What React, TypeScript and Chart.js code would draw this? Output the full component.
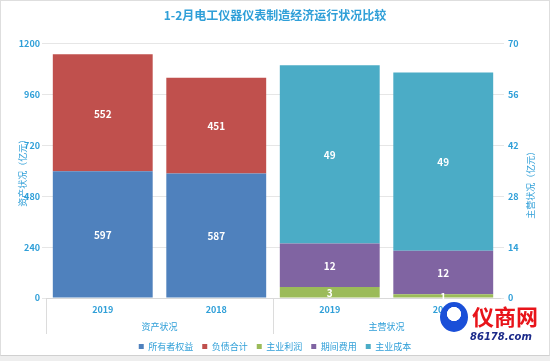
import React, { useEffect, useRef } from "react";
import { Chart, registerables } from "chart.js";

Chart.register(...registerables);

const title = "1-2月电工仪器仪表制造经济运行状况比较";
const years = ["2019", "2018", "2019", "2018"];
const groups = ["资产状况", "主营状况"];
const leftTitle = "资产状况（亿元）";
const rightTitle = "主营状况（亿元）";

const ownerEquity = [597, 587, null, null];
const totalLiabilities = [552, 451, null, null];
const mainProfit = [null, null, 3, 1];
const periodExpense = [null, null, 12, 12];
const mainCost = [null, null, 49, 49];

const leftTicks = { min: 0, max: 1200, step: 240 };
const rightTicks = { min: 0, max: 70, step: 14 };

const BLUE_TEXT = "#2f9fd8";
const FONT = '"Noto Sans CJK SC", "Noto Sans", sans-serif';

const labelPlugin = {
  id: "segLabels",
  afterDatasetsDraw(chart: any) {
    const ctx = chart.ctx;
    ctx.save();
    ctx.fillStyle = "#ffffff";
    ctx.font = `bold 10px ${FONT}`;
    ctx.textAlign = "center";
    ctx.textBaseline = "middle";
    chart.data.datasets.forEach((ds: any, i: number) => {
      const meta = chart.getDatasetMeta(i);
      meta.data.forEach((el: any, j: number) => {
        const v = ds.data[j];
        if (v === null || v === undefined) return;
        const p = el.getProps(["x", "y", "base"], true);
        ctx.fillText(String(v), p.x, (p.y + p.base) / 2 + 1);
      });
    });
    ctx.restore();
  },
};

// right axis title, read bottom-to-top like the left one
const rightTitlePlugin = {
  id: "rightTitle",
  afterDraw(chart: any) {
    const s = chart.scales.y1;
    if (!s) return;
    const ctx = chart.ctx;
    ctx.save();
    ctx.translate(s.right - 19, (s.top + s.bottom) / 2 + 12);
    ctx.rotate(-Math.PI / 2);
    ctx.fillStyle = BLUE_TEXT;
    ctx.font = `9px ${FONT}`;
    ctx.textAlign = "center";
    ctx.textBaseline = "middle";
    ctx.fillText(rightTitle, 0, 0);
    ctx.restore();
  },
};

export default function App() {
  const ref = useRef<HTMLCanvasElement | null>(null);
  useEffect(() => {
    document.body.style.margin = "0";
    const canvas = ref.current!;
    const chart = new Chart(canvas, {
      type: "bar",
      data: {
        labels: years,
        datasets: [
          { label: "所有者权益", data: ownerEquity, backgroundColor: "#4f81bd", yAxisID: "y" },
          { label: "负债合计", data: totalLiabilities, backgroundColor: "#c0504d", yAxisID: "y" },
          { label: "主业利润", data: mainProfit, backgroundColor: "#9bbb59", yAxisID: "y1" },
          { label: "期间费用", data: periodExpense, backgroundColor: "#8064a2", yAxisID: "y1" },
          { label: "主业成本", data: mainCost, backgroundColor: "#4bacc6", yAxisID: "y1" },
        ] as any,
      },
      options: {
        animation: false,
        responsive: false,
        maintainAspectRatio: false,
        barPercentage: 0.88,
        categoryPercentage: 1.0,
        layout: { padding: { left: 0, right: 0, top: 0, bottom: 0 } },
        plugins: {
          title: {
            display: true,
            text: title,
            color: BLUE_TEXT,
            font: { family: FONT, size: 12, weight: "bold" },
            padding: { top: 8, bottom: 21 },
          },
          legend: {
            position: "bottom",
            labels: {
              boxWidth: 5,
              boxHeight: 5,
              color: BLUE_TEXT,
              font: { family: FONT, size: 9 },
              padding: 9,
            },
          },
          tooltip: { enabled: false },
        },
        scales: {
          x: {
            type: "category",
            stacked: true,
            position: "bottom",
            offset: true,
            border: { display: true, color: "#d9d9d9" },
            grid: {
              offset: true,
              drawOnChartArea: false,
              drawTicks: true,
              tickLength: 36,
              color: (c: any) => (c.index === 0 || c.index === 2 || c.index === 4 ? "#dcdcdc" : "rgba(0,0,0,0)"),
            },
            ticks: {
              color: BLUE_TEXT,
              font: { family: FONT, size: 9, weight: "bold" },
              padding: -30,
            },
            afterFit: (s: any) => {
              s.height = 20;
            },
          },
          x2: {
            type: "category",
            labels: groups,
            position: "bottom",
            offset: true,
            border: { display: false },
            grid: { display: false },
            ticks: {
              color: BLUE_TEXT,
              font: { family: FONT, size: 9 },
              padding: -5,
            },
            afterFit: (s: any) => {
              s.height = 15;
            },
          },
          y: {
            type: "linear",
            stacked: true,
            position: "left",
            min: leftTicks.min,
            max: leftTicks.max,
            border: { display: false },
            grid: { color: "#e6e6e6", drawTicks: true, tickLength: 4, tickColor: "#e6e6e6" },
            ticks: {
              stepSize: leftTicks.step,
              color: BLUE_TEXT,
              font: { family: FONT, size: 9, weight: "bold" },
              padding: 2,
              callback: (v: any) => String(v),
            },
            title: {
              display: true,
              text: leftTitle,
              color: BLUE_TEXT,
              font: { family: FONT, size: 9 },
              padding: { top: 17, bottom: 0 },
            },
            afterFit: (s: any) => {
              s.width = 46;
            },
          },
          y1: {
            type: "linear",
            stacked: true,
            position: "right",
            min: rightTicks.min,
            max: rightTicks.max,
            border: { display: false },
            grid: { drawOnChartArea: false, drawTicks: true, tickLength: 4, color: "#e6e6e6" },
            ticks: {
              stepSize: rightTicks.step,
              color: BLUE_TEXT,
              font: { family: FONT, size: 9, weight: "bold" },
              padding: 4,
              callback: (v: any) => String(v),
            },
            title: { display: false, text: rightTitle },
            afterFit: (s: any) => {
              s.width = 50;
            },
          },
        },
      } as any,
      plugins: [labelPlugin, rightTitlePlugin],
    });
    return () => chart.destroy();
  }, []);

  return (
    <div style={{ position: "relative", width: 550, height: 361, background: "#ffffff", overflow: "hidden" }}>
      <canvas ref={ref} width={550} height={361} style={{ position: "absolute", left: 0, top: 0 }} />
      <div
        style={{
          position: "absolute",
          left: 0,
          top: 0,
          width: 548,
          height: 354,
          border: "1px solid #dedede",
          borderBottom: "1px solid #d0d0d0",
          pointerEvents: "none",
        }}
      />
      <div style={{ position: "absolute", left: 0, top: 356, width: 550, height: 5, background: "#eeeeee" }} />
      <div
        style={{
          position: "absolute",
          left: 440,
          top: 302,
          width: 28,
          height: 30,
          borderRadius: "50%",
          background: "radial-gradient(circle at 50% 40%, #ffffff 0 30%, #1a4fd8 32%)",
        }}
      />
      <div
        style={{
          position: "absolute",
          left: 472,
          top: 302,
          color: "#e8141a",
          fontFamily: FONT,
          fontWeight: "bold",
          fontSize: 22,
          lineHeight: "26px",
        }}
      >
        仪商网
      </div>
      <div
        style={{
          position: "absolute",
          left: 470,
          top: 331,
          color: "#1b2a8a",
          fontFamily: '"DejaVu Sans", sans-serif',
          fontWeight: "bold",
          fontStyle: "italic",
          fontSize: 10,
          lineHeight: "12px",
        }}
      >
        86178.com
      </div>
    </div>
  );
}
